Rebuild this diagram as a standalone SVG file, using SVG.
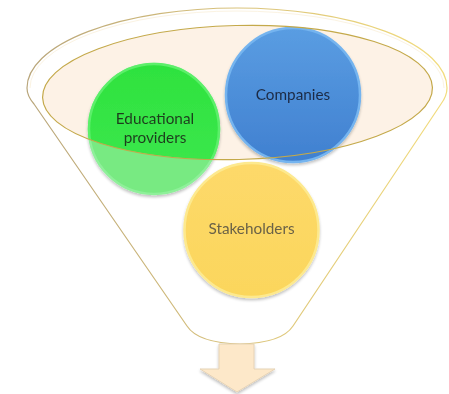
<svg xmlns="http://www.w3.org/2000/svg" width="449" height="394" viewBox="0 0 449 394">
<style>
  .lbl { font-family: Lato, "Open Sans", "Liberation Sans", sans-serif; font-size: 15.3px; text-anchor: middle; }
</style>
<defs>
  <linearGradient id="funnelStroke" x1="0" y1="0" x2="1" y2="0">
    <stop offset="0" stop-color="#b8a57a"/>
    <stop offset="0.5" stop-color="#d9c27a"/>
    <stop offset="1" stop-color="#f2dc7c"/>
  </linearGradient>
  <linearGradient id="gGreen" x1="0" y1="0" x2="0" y2="1">
    <stop offset="0" stop-color="#2ee23e"/>
    <stop offset="1" stop-color="#3fe84f"/>
  </linearGradient>
  <linearGradient id="gBlue" x1="0" y1="0" x2="0" y2="1">
    <stop offset="0" stop-color="#5a9de2"/>
    <stop offset="1" stop-color="#4080d0"/>
  </linearGradient>
  <linearGradient id="gYellow" x1="0" y1="0" x2="0" y2="1">
    <stop offset="0" stop-color="#fdd96a"/>
    <stop offset="1" stop-color="#fbd65c"/>
  </linearGradient>
  <clipPath id="innerClip">
    <ellipse cx="237.5" cy="92.5" rx="195" ry="67" transform="rotate(-1.5 237.5 92.5)"/>
  </clipPath>
  <filter id="shadow" x="-20%" y="-20%" width="140%" height="140%">
    <feGaussianBlur in="SourceAlpha" stdDeviation="1.5"/>
    <feOffset dx="0" dy="1.5" result="b"/>
    <feComponentTransfer><feFuncA type="linear" slope="0.25"/></feComponentTransfer>
    <feMerge><feMergeNode/><feMergeNode in="SourceGraphic"/></feMerge>
  </filter>
</defs>
<rect width="449" height="394" fill="#ffffff"/>

<g id="funnel">
  <path d="M 27,88 A 210,80 0 0 1 447,88 Q 447,96 441,104 L 293,326 Q 282,343 240,344 Q 198,343 187,326 L 34,104 Q 27,96 27,88 Z" fill="#ffffff" stroke="url(#funnelStroke)" stroke-width="1.2"/>
  <path d="M 30,88 A 207,77 0 0 1 444,88" fill="none" stroke="#fbf3e2" stroke-width="1"/>
  <ellipse id="funnel-mouth" cx="237.5" cy="92.5" rx="195" ry="67" transform="rotate(-1.5 237.5 92.5)" fill="#fdf2e6"/>
</g>

<g id="stakeholders" filter="url(#shadow)">
  <circle cx="251.5" cy="230" r="67" fill="url(#gYellow)" stroke="#fde98e" stroke-width="2.5"/>
  <text class="lbl" x="251.5" y="234" fill="#6b6247">Stakeholders</text>
</g>

<g id="companies" filter="url(#shadow)">
  <circle cx="293" cy="95" r="67" fill="url(#gBlue)" stroke="#74b4ef" stroke-width="2.5"/>
  <text class="lbl" x="293" y="100" fill="#1c2b45">Companies</text>
</g>

<g id="educational-providers" filter="url(#shadow)">
  <circle cx="154" cy="129" r="65" fill="#78ea82" stroke="#8ff09a" stroke-width="2.5"/>
  <circle cx="154" cy="129" r="65" fill="url(#gGreen)" stroke="#5cef6a" stroke-width="2.5" clip-path="url(#innerClip)"/>
  <text class="lbl" x="155" y="124" fill="#1f3d1f">Educational</text>
  <text class="lbl" x="155" y="143" fill="#1f3d1f">providers</text>
</g>

<g id="mouth-outline">
  <ellipse cx="237.5" cy="92.5" rx="195" ry="67" transform="rotate(-1.5 237.5 92.5)" fill="none" stroke="#c4a94a" stroke-width="1.2"/>
</g>

<g id="connectors">
  <path id="output-arrow" d="M 219,344 L 254,344 L 254,369 L 275,369 L 237,392 L 200,369 L 219,369 Z" fill="#fde8c9" stroke="#e6d3b6" stroke-width="1" filter="url(#shadow)"/>
</g>
</svg>
